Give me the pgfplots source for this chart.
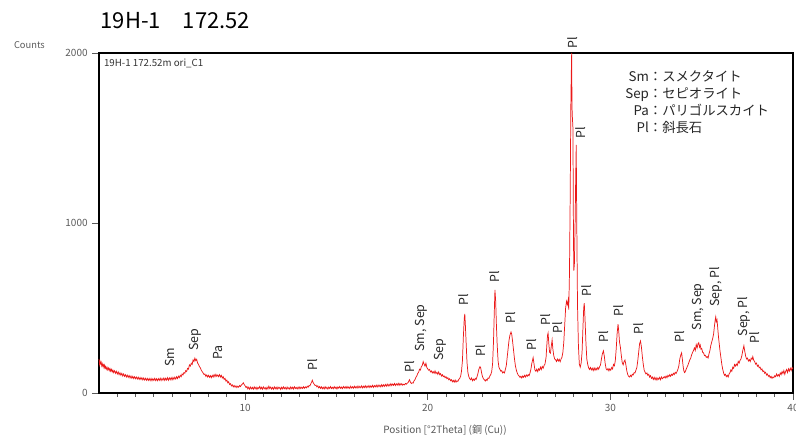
\documentclass[border=0pt]{standalone}
\usepackage{pgfplots}
\pgfplotsset{compat=1.18}
\usepackage{fontspec}
\setmainfont{Noto Sans CJK JP}
\definecolor{xrdred}{RGB}{235,25,25}
\definecolor{tickgray}{RGB}{90,90,90}
\begin{document}
\begin{tikzpicture}
\useasboundingbox (0,0) rectangle (597pt,329.25pt);
\node[anchor=west,font=\fontsize{16.5}{18}\selectfont] at (72pt,314pt) {19H-1　172.52};
\node[anchor=west,font=\fontsize{7}{8}\selectfont,text=tickgray] at (7pt,295.5pt) {Counts};
\node[font=\fontsize{7.5}{9}\selectfont,text=tickgray] at (333.75pt,6.75pt) {Position [°2Theta] (銅 (Cu))};
\begin{axis}[
  at={(74.25pt,34.5pt)}, anchor=south west,
  scale only axis, width=520.5pt, height=255pt,
  xmin=2, xmax=40, ymin=0, ymax=2000,
  clip=false,
  axis line style={black, line width=0.8pt},
  tick pos=left, tick align=outside,
  xtick={10,20,30,40}, minor xtick={3,4,...,39},
  ytick={0,1000,2000},
  major tick length=5pt, minor tick length=3pt,
  every tick/.style={tickgray, line width=0.6pt},
  tick label style={font=\fontsize{7.5}{9}\selectfont, text=tickgray},
  /pgf/number format/1000 sep={},
  /pgf/number format/assume math mode=true,
]
\addplot[color=xrdred, line width=0.55pt] table {
2.00 200
2.03 168
2.06 185
2.09 172
2.12 181
2.15 160
2.18 172
2.21 158
2.24 166
2.27 150
2.30 163
2.33 146
2.36 156
2.40 140
2.44 152
2.48 136
2.52 147
2.56 132
2.60 144
2.64 128
2.68 139
2.72 124
2.76 135
2.80 120
2.85 131
2.90 116
2.95 128
3.00 112
3.05 124
3.10 108
3.15 119
3.20 104
3.25 116
3.30 100
3.35 112
3.40 98
3.45 108
3.50 94
3.55 105
3.60 92
3.65 103
3.70 89
3.75 100
3.80 87
3.85 98
3.90 85
3.95 96
4.00 84
4.05 94
4.10 82
4.15 93
4.20 80
4.25 91
4.30 79
4.35 90
4.40 77
4.45 88
4.50 76
4.55 87
4.60 75
4.65 86
4.70 74
4.75 85
4.80 73
4.85 86
4.90 72
4.95 84
5.00 74
5.05 86
5.10 73
5.15 84
5.20 72
5.25 85
5.30 74
5.35 87
5.40 73
5.45 86
5.50 75
5.55 88
5.60 74
5.65 87
5.70 76
5.75 90
5.80 75
5.85 89
5.90 78
5.95 91
6.00 77
6.05 92
6.10 80
6.15 93
6.20 82
6.25 96
6.30 85
6.35 99
6.40 90
6.45 104
6.50 96
6.55 112
6.60 106
6.65 120
6.70 116
6.75 132
6.80 126
6.85 145
6.90 140
6.95 165
7.00 158
7.05 175
7.10 168
7.15 195
7.20 185
7.25 205
7.30 190
7.35 198
7.40 176
7.45 168
7.50 155
7.55 148
7.60 134
7.65 126
7.70 118
7.75 108
7.80 112
7.85 98
7.90 106
7.95 94
8.00 104
8.05 92
8.10 102
8.15 90
8.20 104
8.25 94
8.30 108
8.35 96
8.40 110
8.45 98
8.50 106
8.55 96
8.60 108
8.65 94
8.70 104
8.75 88
8.80 96
8.85 80
8.90 86
8.95 70
9.00 76
9.05 60
9.10 66
9.15 50
9.20 55
9.25 42
9.30 48
9.35 36
9.40 44
9.45 34
9.50 42
9.55 32
9.60 40
9.65 34
9.70 44
9.75 38
9.80 48
9.85 52
9.90 60
9.95 50
10.00 42
10.05 32
10.10 38
10.15 24
10.20 34
10.25 22
10.30 35
10.35 24
10.40 33
10.45 22
10.50 36
10.55 25
10.60 34
10.65 21
10.70 33
10.75 26
10.80 38
10.85 24
10.90 34
10.95 22
11.00 36
11.05 25
11.10 32
11.15 21
11.20 34
11.25 24
11.30 40
11.35 26
11.40 35
11.45 23
11.50 33
11.55 22
11.60 36
11.65 25
11.70 34
11.75 22
11.80 35
11.85 26
11.90 33
11.95 21
12.00 34
12.05 24
12.10 36
12.15 25
12.20 33
12.25 22
12.30 35
12.35 24
12.40 32
12.45 22
12.50 36
12.55 25
12.60 34
12.65 23
12.70 37
12.75 26
12.80 33
12.85 24
12.90 35
12.95 25
13.00 36
13.05 26
13.10 34
13.15 27
13.20 37
13.25 28
13.30 36
13.35 30
13.40 40
13.45 34
13.50 44
13.55 42
13.60 55
13.65 66
13.68 75
13.72 62
13.78 52
13.83 44
13.88 46
13.93 36
13.98 42
14.03 30
14.08 38
14.13 27
14.18 36
14.23 25
14.28 34
14.33 24
14.38 37
14.43 26
14.48 34
14.53 23
14.58 35
14.63 27
14.68 38
14.73 26
14.78 34
14.83 25
14.88 37
14.93 27
14.98 35
15.03 24
15.08 36
15.13 28
15.18 38
15.23 27
15.28 35
15.33 26
15.38 38
15.43 29
15.48 37
15.53 27
15.58 39
15.63 28
15.68 36
15.73 27
15.78 40
15.83 29
15.88 37
15.93 28
15.98 40
16.03 30
16.08 38
16.13 29
16.18 41
16.23 30
16.28 39
16.33 31
16.38 42
16.43 30
16.48 40
16.53 32
16.58 43
16.63 31
16.68 41
16.73 33
16.78 44
16.83 32
16.88 42
16.93 34
16.98 45
17.03 33
17.08 44
17.13 36
17.18 46
17.23 35
17.28 47
17.33 37
17.38 46
17.43 36
17.48 49
17.53 38
17.58 48
17.63 39
17.68 50
17.73 40
17.78 52
17.83 41
17.88 51
17.93 42
17.98 55
18.03 44
18.08 53
18.13 45
18.18 56
18.23 44
18.28 54
18.33 46
18.38 57
18.43 45
18.48 56
18.53 47
18.58 55
18.63 46
18.68 52
18.73 48
18.78 56
18.83 52
18.88 58
18.93 62
19.00 78
19.05 64
19.10 56
19.15 60
19.20 58
19.25 72
19.30 78
19.35 92
19.40 100
19.45 115
19.50 122
19.55 140
19.60 135
19.65 155
19.70 162
19.75 185
19.80 170
19.85 158
19.90 175
19.95 150
20.00 142
20.05 134
20.10 138
20.15 124
20.20 130
20.25 118
20.30 126
20.35 116
20.40 130
20.45 114
20.50 122
20.55 110
20.60 124
20.65 108
20.70 114
20.75 100
20.80 108
20.85 96
20.90 100
20.95 90
21.00 96
21.05 84
21.10 90
21.15 78
21.20 84
21.25 72
21.30 78
21.35 66
21.40 74
21.45 64
21.50 76
21.55 64
21.60 72
21.65 68
21.70 80
21.75 86
21.80 98
21.85 130
21.90 190
21.95 330
22.00 440
22.03 465
22.06 400
22.10 300
22.15 180
22.20 120
22.25 96
22.30 84
22.35 78
22.40 88
22.45 72
22.50 82
22.55 74
22.60 86
22.65 80
22.70 96
22.75 116
22.80 140
22.86 155
22.90 148
22.95 118
23.00 96
23.05 84
23.10 78
23.15 70
23.20 80
23.25 74
23.30 88
23.35 86
23.40 100
23.45 108
23.50 125
23.55 170
23.60 300
23.64 460
23.68 606
23.72 540
23.76 400
23.80 290
23.85 190
23.90 150
23.95 140
24.00 128
24.05 132
24.10 118
24.15 124
24.20 118
24.25 138
24.30 160
24.35 210
24.40 260
24.45 310
24.50 340
24.56 359
24.60 345
24.65 300
24.70 250
24.75 200
24.80 160
24.85 135
24.90 118
24.95 106
25.00 100
25.05 92
25.10 98
25.15 88
25.20 100
25.25 92
25.30 104
25.35 94
25.40 106
25.45 98
25.50 108
25.55 102
25.60 118
25.65 140
25.70 175
25.77 208
25.82 170
25.87 135
25.92 128
25.97 140
26.02 126
26.07 142
26.12 134
26.17 152
26.22 138
26.27 156
26.32 146
26.37 162
26.42 170
26.48 210
26.52 280
26.56 340
26.59 353
26.63 290
26.67 240
26.72 235
26.77 280
26.81 312
26.85 260
26.90 220
26.95 200
27.00 196
27.05 185
27.10 200
27.15 188
27.20 198
27.25 184
27.30 200
27.35 210
27.40 240
27.45 300
27.50 400
27.55 500
27.60 540
27.65 520
27.69 547
27.72 490
27.76 700
27.80 1150
27.84 1750
27.88 2000
27.90 1680
27.92 1620
27.95 1560
27.98 900
28.00 720
28.03 760
28.07 1000
28.10 1250
28.13 1460
28.16 1000
28.20 520
28.25 280
28.30 170
28.35 152
28.40 176
28.45 240
28.50 390
28.54 500
28.57 529
28.61 440
28.66 300
28.71 200
28.76 168
28.81 148
28.86 138
28.91 150
28.96 136
29.01 146
29.06 132
29.11 148
29.16 134
29.21 146
29.26 136
29.31 150
29.36 140
29.41 155
29.46 165
29.51 200
29.56 230
29.62 248
29.67 215
29.72 170
29.77 142
29.82 135
29.87 144
29.92 130
29.97 142
30.02 134
30.07 150
30.12 142
30.17 168
30.22 160
30.27 190
30.32 260
30.37 350
30.42 405
30.46 360
30.50 300
30.55 268
30.60 220
30.65 178
30.70 166
30.75 185
30.80 194
30.85 165
30.90 130
30.95 108
31.00 98
31.05 94
31.10 104
31.15 96
31.20 110
31.25 106
31.30 120
31.35 118
31.40 135
31.45 150
31.50 190
31.55 240
31.60 290
31.65 306
31.70 270
31.75 215
31.80 170
31.85 135
31.90 122
31.95 112
32.00 118
32.05 104
32.10 110
32.15 94
32.20 102
32.25 86
32.30 94
32.35 80
32.40 92
32.45 78
32.50 90
32.55 76
32.60 88
32.65 80
32.70 92
32.75 78
32.80 94
32.85 84
32.95 96
33.00 88
33.05 100
33.10 90
33.15 104
33.20 96
33.25 108
33.30 98
33.35 110
33.40 104
33.45 116
33.50 108
33.55 122
33.60 115
33.65 126
33.70 140
33.75 160
33.80 200
33.86 225
33.90 236
33.94 200
33.98 160
34.02 132
34.06 120
34.10 125
34.15 140
34.20 152
34.25 165
34.30 180
34.35 195
34.40 205
34.45 225
34.50 238
34.55 250
34.60 265
34.65 250
34.70 285
34.75 265
34.80 290
34.84 296
34.88 270
34.92 282
34.96 258
35.00 262
35.05 240
35.10 236
35.15 220
35.20 222
35.25 210
35.30 214
35.35 206
35.40 230
35.45 250
35.50 280
35.55 300
35.60 320
35.65 345
35.70 395
35.74 430
35.77 448
35.80 420
35.84 430
35.88 380
35.92 330
35.96 290
36.00 250
36.05 210
36.10 170
36.15 140
36.20 118
36.25 104
36.30 110
36.35 96
36.40 104
36.45 94
36.50 112
36.55 120
36.60 136
36.65 128
36.70 152
36.75 145
36.80 168
36.85 158
36.90 170
36.95 162
37.00 186
37.05 176
37.10 192
37.15 200
37.20 220
37.25 250
37.31 278
37.36 245
37.41 215
37.46 200
37.51 205
37.56 188
37.61 196
37.66 185
37.71 205
37.76 198
37.80 214
37.85 192
37.90 185
37.95 170
38.00 176
38.05 158
38.10 164
38.15 148
38.20 152
38.25 136
38.30 142
38.35 126
38.40 130
38.45 116
38.50 122
38.55 106
38.60 112
38.65 98
38.70 104
38.75 90
38.80 98
38.85 86
38.90 94
38.95 90
39.00 102
39.05 96
39.10 112
39.15 100
39.20 108
39.25 98
39.30 118
39.35 108
39.40 126
39.45 114
39.50 132
39.55 110
39.60 128
39.65 138
39.70 120
39.75 142
39.80 128
39.85 146
39.90 132
39.95 150
40.00 140
};
\begin{scope}[every node/.style={rotate=90, anchor=west, inner sep=1pt, font=\fontsize{9.3}{11}\selectfont, text=black!85}]
\node at (axis cs:5.88,147) {Sm};
\node at (axis cs:7.25,241) {Sep};
\node at (axis cs:8.52,188) {Pa};
\node at (axis cs:13.68,124) {Pl};
\node at (axis cs:19.0,112) {Pl};
\node at (axis cs:19.67,235) {Sm, Sep};
\node at (axis cs:20.66,182) {Sep};
\node at (axis cs:21.98,506) {Pl};
\node at (axis cs:22.91,206) {Pl};
\node at (axis cs:23.68,641) {Pl};
\node at (axis cs:24.56,400) {Pl};
\node at (axis cs:25.71,241) {Pl};
\node at (axis cs:26.48,388) {Pl};
\node at (axis cs:27.09,341) {Pl};
\node at (axis cs:27.91,2018) {Pl};
\node at (axis cs:28.35,1488) {Pl};
\node at (axis cs:28.68,559) {Pl};
\node at (axis cs:29.62,288) {Pl};
\node at (axis cs:30.44,441) {Pl};
\node at (axis cs:31.54,335) {Pl};
\node at (axis cs:33.79,288) {Pl};
\node at (axis cs:34.84,359) {Sm, Sep};
\node at (axis cs:35.77,500) {Sep, Pl};
\node at (axis cs:37.31,324) {Sep, Pl};
\node at (axis cs:37.91,282) {Pl};
\end{scope}
\node[anchor=north west, inner sep=1pt, font=\fontsize{7.3}{8.5}\selectfont, text=black!80] at (rel axis cs:0.005,0.988) {19H-1 172.52m ori\_C1};
\node[anchor=north west, inner sep=0pt, font=\fontsize{10}{12.75}\selectfont, text=black!85] at (rel axis cs:0.758,0.951) {%
\begin{tabular}{@{}r@{}l@{}}
Sm&：スメクタイト\\
Sep&：セピオライト\\
Pa&：パリゴルスカイト\\
Pl&：斜長石
\end{tabular}};
\end{axis}
\end{tikzpicture}
\end{document}
